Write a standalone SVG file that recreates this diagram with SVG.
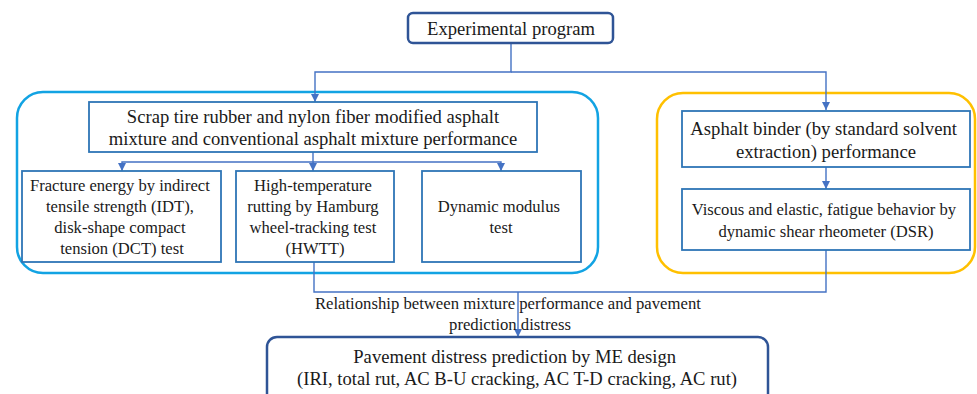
<svg xmlns="http://www.w3.org/2000/svg" width="977" height="394" viewBox="0 0 977 394">
  <defs>
    <marker id="arrow" viewBox="0 0 8 8" refX="8" refY="4" markerWidth="8" markerHeight="8" markerUnits="userSpaceOnUse" orient="auto">
      <path d="M0,0 L8,4 L0,8 Z" fill="#4472c4"/>
    </marker>
  </defs>
  <style>
    .main { fill: #fff; stroke: #2f5496; stroke-width: 2.5; }
    .box { fill: #fff; stroke: #2e75b6; stroke-width: 1.8; }
    .grp-blue { fill: none; stroke: #12a3e3; stroke-width: 2.5; }
    .grp-gold { fill: none; stroke: #ffc000; stroke-width: 2.5; }
    .link { fill: none; stroke: #4472c4; stroke-width: 1.4; }
  </style>
  <rect width="977" height="394" fill="#fff"/>

  <!-- group frames -->
  <rect id="mixture-group" class="grp-blue" x="17" y="92" width="581" height="181" rx="26"/>
  <rect id="binder-group" class="grp-gold" x="657" y="93" width="318" height="180" rx="26"/>

  <!-- connectors -->
  <g id="connectors">
    <path class="link" d="M511,43 V72 H315 V102" marker-end="url(#arrow)"/>
    <path class="link" d="M511,72 H826 V110" marker-end="url(#arrow)"/>
    <path class="link" d="M313,152 V162 H122 V171" marker-end="url(#arrow)"/>
    <path class="link" d="M313,162 V171" marker-end="url(#arrow)"/>
    <path class="link" d="M313,162 H501 V171" marker-end="url(#arrow)"/>
    <path class="link" d="M826,167 V189" marker-end="url(#arrow)"/>
    <path class="link" d="M314,262 V292 H826 V250"/>
    <path class="link" d="M518,292 V337" marker-end="url(#arrow)"/>
  </g>

  <g font-family="Liberation Serif, Times New Roman, serif" fill="#1a1a1a" text-anchor="middle">
    <g id="experimental-program">
      <rect class="main" x="408" y="13" width="205" height="30" rx="5"/>
      <text x="511" y="35" font-size="18.6">Experimental program</text>
    </g>

    <g id="mixture-performance">
      <rect class="box" x="89" y="102" width="448" height="50"/>
      <text x="313" y="123" font-size="18.6">Scrap tire rubber and nylon fiber modified asphalt</text>
      <text x="313" y="145" font-size="18.6">mixture and conventional asphalt mixture performance</text>
    </g>

    <g id="fracture-energy">
      <rect class="box" x="22" y="171" width="199" height="91"/>
      <text font-size="16.6">
        <tspan x="122" y="191">Fracture energy by indirect</tspan>
        <tspan x="122" y="212">tensile strength (IDT),</tspan>
        <tspan x="122" y="233">disk-shape compact</tspan>
        <tspan x="122" y="254">tension (DCT) test</tspan>
      </text>
    </g>

    <g id="rutting-hwtt">
      <rect class="box" x="236" y="171" width="158" height="91"/>
      <text font-size="16.6">
        <tspan x="315" y="191">High-temperature</tspan>
        <tspan x="315" y="212">rutting by Hamburg</tspan>
        <tspan x="315" y="233">wheel-tracking test</tspan>
        <tspan x="315" y="254">(HWTT)</tspan>
      </text>
    </g>

    <g id="dynamic-modulus">
      <rect class="box" x="422" y="171" width="159" height="91"/>
      <text font-size="16.6">
        <tspan x="501" y="212">Dynamic modulus</tspan>
        <tspan x="501" y="233">test</tspan>
      </text>
    </g>

    <g id="binder-performance">
      <rect class="box" x="682" y="111" width="288" height="56"/>
      <text font-size="18.7">
        <tspan x="826" y="135">Asphalt binder (by standard solvent</tspan>
        <tspan x="826" y="158">extraction) performance</tspan>
      </text>
    </g>

    <g id="dsr-behavior">
      <rect class="box" x="682" y="189" width="288" height="61"/>
      <text font-size="16.6">
        <tspan x="826" y="215">Viscous and elastic, fatigue behavior by</tspan>
        <tspan x="826" y="237">dynamic shear rheometer (DSR)</tspan>
      </text>
    </g>

    <g id="relationship-label">
      <text font-size="16.7">
        <tspan x="510" y="309">Relationship between mixture performance and pavement</tspan>
        <tspan x="510" y="330">prediction distress</tspan>
      </text>
    </g>

    <g id="distress-prediction">
      <rect class="main" x="267" y="337" width="501" height="70" rx="10"/>
      <text font-size="18.6">
        <tspan x="517" y="363">Pavement distress prediction by ME design</tspan>
        <tspan x="517" y="385">(IRI, total rut, AC B-U cracking, AC T-D cracking, AC rut)</tspan>
      </text>
    </g>
  </g>
</svg>
